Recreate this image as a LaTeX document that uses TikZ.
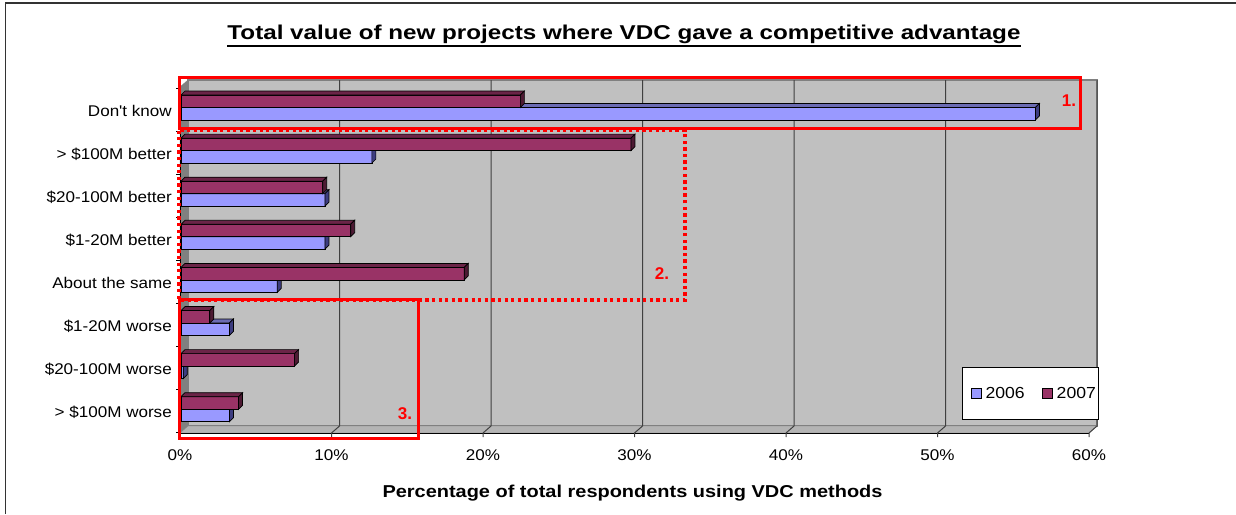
\documentclass[tikz,border=0pt]{standalone}
\usepackage{fontspec}
\setmainfont{Liberation Sans}
\usepackage{tikz}
\usetikzlibrary{positioning}

\definecolor{wallgray}{HTML}{C0C0C0}
\definecolor{sidegray}{HTML}{808080}
\definecolor{floorgray}{HTML}{B4B4B4}
\definecolor{c06}{HTML}{9999FF}
\definecolor{c06top}{HTML}{6B6BB3}
\definecolor{c06side}{HTML}{3D3D80}
\definecolor{c07}{HTML}{993366}
\definecolor{c07top}{HTML}{6B2447}
\definecolor{c07side}{HTML}{4D1A33}

% one 3D bar: top y, bottom y, value in percent, colour prefix
\newcommand{\drawbar}[4]{%
  \pgfmathsetmacro{\xend}{181+15.15*#3}
  \filldraw[fill=#4,draw=black,line width=0.7pt] (181,#1) rectangle (\xend,#2);
  \filldraw[fill=#4top,draw=black,line width=0.7pt] (181,#1) -- (185,#1-4) -- (\xend+4,#1-4) -- (\xend,#1) -- cycle;
  \filldraw[fill=#4side,draw=black,line width=0.7pt] (\xend,#1) -- (\xend+4,#1-4) -- (\xend+4,#2-4) -- (\xend,#2) -- cycle;
}

\begin{document}
\begin{tikzpicture}[x=1pt,y=-1pt,
  catlabel/.style={font=\fontsize{15.5}{18}\selectfont,anchor=base east,inner sep=0pt,xscale=1.1,transform shape},
  ticklabel/.style={font=\fontsize{15.5}{18}\selectfont,anchor=base,inner sep=0pt,xscale=1.1,transform shape},
  keybox/.style={draw=black,line width=0.6pt,minimum size=10pt,inner sep=0pt},
  keytext/.style={font=\fontsize{16}{18}\selectfont,inner sep=0pt,xscale=1.1,transform shape},
  redbox/.style={draw=red,line width=3pt},
  reddots/.style={draw=red,line width=3.2pt,dash pattern=on 3.3pt off 3.3pt},
  redlabel/.style={text=red,font=\bfseries\fontsize{17}{18}\selectfont,inner sep=0pt},
  grid line/.style={draw=black!75,line width=1pt}]
\useasboundingbox (0,0) rectangle (1236,514);
\draw[black!80,line width=1.5pt] (5.5,514) -- (5.5,3) -- (1236,3);

% title
\node[font=\bfseries\fontsize{20}{24}\selectfont,anchor=base,inner sep=0pt,xscale=1.21,transform shape] (title) at (624,39.3)
  {Total value of new projects where VDC gave a competitive advantage};
\draw[line width=1.8pt] ([yshift=-7pt]title.base west) -- ([yshift=-7pt]title.base east);

% walls and floor
\filldraw[fill=wallgray,draw=sidegray,line width=1.5pt] (188,80) rectangle (1097,426);
\filldraw[fill=sidegray,draw=sidegray] (180,87) -- (188,80) -- (188,426) -- (180,433) -- cycle;
\filldraw[fill=floorgray,draw=sidegray] (180,433) -- (188,426) -- (1097,426) -- (1089,433) -- cycle;
\draw[black,line width=1pt] (180,433) -- (1089,433);

\foreach \g in {1,...,6}
  \draw[grid line] (188+151.5*\g,80) -- (188+151.5*\g,426) -- (180+151.5*\g,433) -- (180+151.5*\g,437);
\draw[black,line width=1pt] (180,433) -- (180,437);

% bars
\foreach \lbl/\va/\vb [count=\k from 0] in {Don\textquotesingle t know/56.4/22.4, > \$100M better/12.6/29.7,
    \$20-100M better/9.5/9.35, \$1-20M better/9.5/11.2, About the same/6.35/18.7,
    \$1-20M worse/3.2/1.9, \$20-100M worse/0.15/7.5, > \$100M worse/3.2/3.8}{
  \pgfmathsetmacro{\yt}{88+43.1*\k}
  \drawbar{\yt+19.5}{\yt+32}{\va}{c06}
  \drawbar{\yt+7}{\yt+19.5}{\vb}{c07}
  \node[catlabel] (cat\k) at (172,\yt+28) {\lbl};
}

% value axis
\draw[black,line width=1pt] (180,88) -- (180,433);
\foreach \k in {0,...,8}
  \draw[black,line width=1pt] (176,88+43.1*\k) -- (180,88+43.1*\k);
\foreach \g [evaluate=\g as \pct using int(10*\g)] in {0,...,6}
  \node[ticklabel] (tick\g) at (180+151.5*\g,460) {\pct\%};
\node[font=\bfseries\fontsize{17.2}{20}\selectfont,anchor=base,inner sep=0pt,xscale=1.16,transform shape] (xtitle) at (632.5,497.5)
  {Percentage of total respondents using VDC methods};

% legend
\node[draw=black,fill=white,line width=0.7pt,minimum width=136pt,minimum height=52pt,inner sep=0pt] (legend) at (1030,393) {};
\node[keybox,fill=c06] (key06) at (976,393) {};
\node[keytext,right=4pt of key06] (txt06) {2006};
\node[keybox,fill=c07,right=17pt of txt06] (key07) {};
\node[keytext,right=4pt of key07] (txt07) {2007};

% highlighted groups
\draw[redbox] (179,77) rectangle (1080,128);
\draw[reddots] (179,130.5) -- (179,300) -- (685,300) -- (685,130.5) -- cycle;
\draw[redbox] (179,299.5) rectangle (418,438);
\node[redlabel] (grp1) at (1069,101) {1.};
\node[redlabel] (grp2) at (662,274) {2.};
\node[redlabel] (grp3) at (405,413.5) {3.};
\end{tikzpicture}
\end{document}
